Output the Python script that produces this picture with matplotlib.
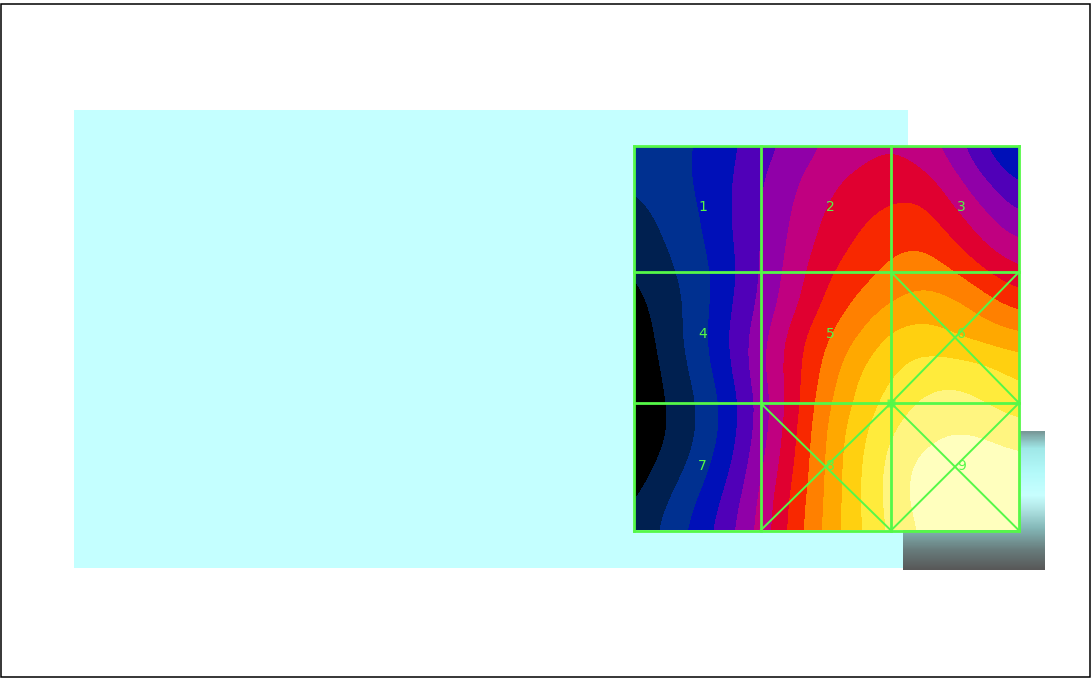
import numpy as np
import matplotlib
matplotlib.use("Agg")
import matplotlib.pyplot as plt
from matplotlib.colors import ListedColormap, BoundaryNorm, LinearSegmentedColormap
from matplotlib.patches import Rectangle

# sample positions of the contour field (pixels of the picture)
field_x = [634, 666, 698, 730, 762, 794, 826, 858, 890, 922, 955, 987, 1019]
field_y = [146, 178, 210, 242, 274, 306, 338, 370, 402, 434, 466, 498, 530]

field = [
    [2.4, 2.7, 3.0, 3.8, 4.6, 5.4, 6.1, 6.6, 6.9, 6.5, 5.4, 3.8, 2.6],
    [2.2, 2.6, 3.1, 3.9, 5.0, 5.85, 6.7, 7.25, 7.5, 7.3, 6.2, 4.85, 3.7],
    [1.7, 2.35, 2.95, 3.97, 5.1, 6.1, 7.1, 7.7, 8.15, 8.3, 7.0, 5.9, 4.8],
    [1.3, 2.05, 2.8, 3.9, 5.1, 6.35, 7.4, 8.15, 8.75, 8.85, 8.05, 6.75, 6.0],
    [0.95, 1.75, 2.55, 3.7, 5.2, 6.55, 7.9, 8.6, 9.3, 9.7, 9.05, 8.1, 7.15],
    [0.6, 1.5, 2.45, 3.95, 5.3, 6.85, 8.3, 9.3, 10.1, 10.5, 10.35, 9.45, 8.7],
    [0.3, 1.4, 2.6, 4.1, 5.75, 7.6, 8.95, 10.1, 11.35, 11.55, 11.0, 10.65, 10.2],
    [0.2, 1.15, 2.4, 3.9, 5.9, 7.7, 9.35, 11.05, 11.85, 12.45, 12.6, 12.3, 11.75],
    [0.2, 0.95, 2.05, 3.5, 5.5, 7.65, 9.85, 11.3, 12.4, 13.2, 13.35, 12.9, 12.3],
    [0.2, 0.9, 2.05, 3.55, 5.65, 7.9, 10.15, 11.7, 13.05, 13.7, 14.1, 13.95, 13.5],
    [0.4, 1.3, 2.45, 3.9, 6.0, 8.05, 10.2, 11.9, 13.4, 14.4, 14.6, 14.5, 14.35],
    [0.8, 1.9, 3.0, 4.4, 6.3, 8.4, 10.2, 12.0, 13.45, 14.55, 14.85, 14.85, 14.8],
    [1.2, 2.3, 3.4, 4.8, 6.45, 8.55, 10.3, 11.9, 13.25, 14.2, 14.7, 14.85, 14.85],
]
levels = list(range(16))
band_colors = [
    "#000000", "#002050", "#003090", "#0010b8", "#5000b8",
    "#9000a8", "#c00080", "#e00030", "#f82800", "#ff8000",
    "#ffa800", "#ffd010", "#ffeb3c", "#fff580", "#ffffbe",
]

# mesh of the nine cells
mesh_x = [633.5, 760.5, 891, 1019]
mesh_y = [145.5, 272, 403, 530.5]
crossed_cells = [(2, 1), (1, 2), (2, 2)]  # column, row
cell_labels = ["1", "2", "3", "4", "5", "6", "7", "8", "9"]
label_x = [702.5, 830, 961.5]
label_y = [207, 334.5, 465.5]

# backdrop shades, top to bottom of the grey block
block_stops = [0.0, 0.12, 0.30, 0.46, 0.55, 0.70, 0.86, 1.0]
block_colors = ["#789898", "#a0e8e8", "#b4fafa", "#c8ffff", "#b4e8e8", "#84b8b8", "#687c7c", "#585858"]

line_green = "#55f848"

fig = plt.figure(figsize=(10.91, 6.80), dpi=100, facecolor="white")
ax = fig.add_axes([0, 0, 1, 1])
ax.axis("off")

ax.add_patch(Rectangle((1, 3.5), 1089, 673, fill=False, ec="black", lw=1.1, zorder=1))
ax.add_patch(Rectangle((74, 110), 834, 458, fc="#c4ffff", ec="none", zorder=2))

block_cmap = LinearSegmentedColormap.from_list("block", list(zip(block_stops, block_colors)))
ax.imshow(
    np.linspace(0, 1, 140).reshape(-1, 1),
    cmap=block_cmap,
    extent=(903, 1045, 570, 431),
    aspect="auto",
    zorder=3,
)

# smooth bands: the field is resampled before the stepped colour scale is applied
cmap = ListedColormap(band_colors)
norm = BoundaryNorm(levels, cmap.N, clip=True)
half_x = (field_x[1] - field_x[0]) / 2
half_y = (field_y[1] - field_y[0]) / 2
im = ax.imshow(
    np.array(field),
    cmap=cmap,
    norm=norm,
    interpolation="bicubic",
    interpolation_stage="data",
    extent=(field_x[0] - half_x, field_x[-1] + half_x, field_y[-1] + half_y, field_y[0] - half_y),
    aspect="auto",
    zorder=4,
)
im.set_clip_path(
    Rectangle((mesh_x[0], mesh_y[0]), mesh_x[-1] - mesh_x[0], mesh_y[-1] - mesh_y[0], transform=ax.transData)
)

ax.set_xlim(0, 1091)
ax.set_ylim(680, 0)

for x in mesh_x:
    ax.plot([x, x], [mesh_y[0], mesh_y[-1]], color=line_green, lw=2.0, zorder=5, solid_capstyle="projecting")
for y in mesh_y:
    ax.plot([mesh_x[0], mesh_x[-1]], [y, y], color=line_green, lw=2.0, zorder=5, solid_capstyle="projecting")
for col, row in crossed_cells:
    x0, x1 = mesh_x[col], mesh_x[col + 1]
    y0, y1 = mesh_y[row], mesh_y[row + 1]
    ax.plot([x0, x1], [y0, y1], color=line_green, lw=1.4, zorder=5)
    ax.plot([x0, x1], [y1, y0], color=line_green, lw=1.4, zorder=5)

ax.plot(mesh_x[2], mesh_y[2], "s", color=line_green, ms=6, mec="none", alpha=0.8, zorder=5)

for i, text in enumerate(cell_labels):
    ax.text(
        label_x[i % 3],
        label_y[i // 3],
        text,
        color=line_green,
        fontsize=10,
        ha="center",
        va="center",
        zorder=6,
    )

fig.savefig("out.png", dpi=100)
